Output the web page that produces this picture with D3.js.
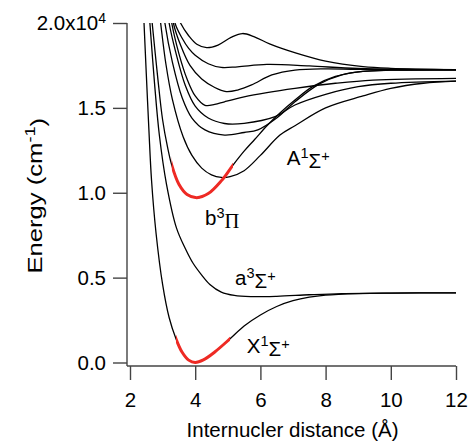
<!DOCTYPE html>
<html>
<head>
<meta charset="utf-8">
<script src="https://cdn.jsdelivr.net/npm/d3@7"></script>
<style>
  body { margin: 0; background: #fff; }
  svg { display: block; font-family: "Liberation Sans", Arial, sans-serif; }
  .curve { fill: none; stroke: #000; stroke-width: 1.3; }
  .red { fill: none; stroke: #ee2a24; stroke-width: 3; }
  .axis text { font-size: 20.5px; fill: #000; }
  .axis line { stroke: #444; stroke-width: 1.4; }
  .lbl { font-size: 20.5px; }
</style>
</head>
<body>
<div id="chart"></div>
<script>
// potential curves, [r (Å), energy (cm^-1)]
const X1Sigma = [[2.35,23500],[2.43,20000],[2.5,17000],[2.58,13700],[2.66,10750],[2.8,7600],[3.0,4600],[3.2,2650],[3.41,1400],[3.6,600],[3.8,140],[4.0,0],[4.25,150],[4.6,620],[5.07,1400],[5.5,2150],[6.0,2800],[6.5,3300],[7.0,3640],[7.5,3850],[8.0,3970],[9.0,4060],[10,4090],[12,4100]];
const a3Sigma = [[2.55,21500],[2.61,20000],[2.75,16500],[2.9,13400],[3.12,10500],[3.43,7900],[3.7,6700],[3.93,5860],[4.2,5150],[4.45,4600],[4.8,4150],[5.2,3950],[5.7,3880],[6.5,3900],[7.5,3990],[8.5,4060],[10,4090],[12,4100]];
const b3Pi = [[2.6,21500],[2.68,20000],[2.85,16800],[3.0,14300],[3.15,12700],[3.28,11630],[3.5,10500],[3.75,9900],[4.05,9710],[4.4,9950],[4.8,10700],[5.16,11630],[5.5,12450],[5.83,13150],[6.2,13950],[6.6,14700],[7.06,15460],[7.6,16250],[8.3,16850],[9.15,17150],[10,17220],[12,17240]];
const A1Sigma = [[2.85,21500],[2.94,20000],[3.1,17600],[3.3,15500],[3.63,13300],[3.9,12200],[4.2,11450],[4.5,11050],[4.8,10900],[5.07,10950],[5.5,11300],[6.0,12200],[6.6,13400],[7.06,13950],[8.0,15000],[9.15,15700],[10,16150],[11,16450],[12,16580]];
const upper6 = [[2.98,21500],[3.07,20000],[3.3,17700],[3.6,15600],[3.9,14400],[4.3,13700],[4.9,13400],[5.5,13550],[5.92,13700],[6.5,14400],[7.06,15360],[7.8,16400],[8.5,16950],[9.15,17150],[10,17220],[12,17240]];
const upper5 = [[3.1,21500],[3.2,20000],[3.4,18300],[3.7,16300],[4.0,15100],[4.4,14400],[4.9,14080],[5.5,14090],[6.45,14480],[7.06,15170],[8,15800],[9,16250],[10,16450],[12,16580]];
const upper4 = [[3.18,21500],[3.28,20000],[3.5,18200],[3.75,16700],[4.0,15700],[4.3,15150],[4.6,15200],[4.9,15360],[5.5,15650],[6.2,15900],[7.06,16150],[8.3,16450],[9.45,16640],[12,16740]];
const upper3 = [[3.23,21500],[3.33,20000],[3.55,18700],[3.84,17500],[4.2,16700],[4.6,16200],[4.95,15960],[5.3,16050],[5.73,16350],[6.35,16940],[7.06,17230],[8,17300],[9,17270],[12,17240]];
const upper2 = [[3.28,21500],[3.38,20000],[3.6,19100],[3.8,18500],[4.0,18100],[4.4,17600],[4.8,17380],[5.3,17420],[6.2,17560],[7.5,17470],[9,17320],[12,17250]];
const upper1 = [[3.45,20500],[3.55,20000],[3.8,19250],[4.05,18750],[4.35,18550],[4.7,18700],[5.1,19150],[5.45,19380],[5.8,19200],[6.3,18750],[7.1,18220],[8,17750],[9.15,17430],[10,17330],[12,17250]];

const curves = [X1Sigma, a3Sigma, b3Pi, A1Sigma, upper6, upper5, upper4, upper3, upper2, upper1];
// red parts near the minimum: [curve, rFrom, rTo]
const redParts = [[X1Sigma, 3.41, 5.07], [b3Pi, 3.28, 5.16]];

const xTicks = [2, 4, 6, 8, 10, 12];
const yTicks = [0, 5000, 10000, 15000, 20000];
const yTickLabels = ["0.0", "0.5", "1.0", "1.5", "2.0x10"];

// state labels: [main, sup, greek, sup2, r, E]
const stateLabels = [
  ["A", "1", "Σ", "+", 6.81, 11640],
  ["b", "3", "Π", "", 4.30, 8100],
  ["a", "3", "Σ", "+", 5.22, 4570],
  ["X", "1", "Σ", "+", 5.58, 560]
];

const width = 472, height = 443;
const x = d3.scaleLinear().domain([2, 12]).range([130, 456]);
const y = d3.scaleLinear().domain([0, 20000]).range([362.5, 23]);

const svg = d3.select("#chart").append("svg")
  .attr("width", width).attr("height", height);

const defs = svg.append("defs");
defs.append("clipPath").attr("id", "plot")
  .append("rect")
  .attr("x", x(2) - 20).attr("y", y(20000))
  .attr("width", x(12) - x(2) + 20).attr("height", y(0) - y(20000) + 3);
redParts.forEach((p, i) => {
  defs.append("clipPath").attr("id", "red" + i)
    .append("rect")
    .attr("x", x(p[1])).attr("y", y(20000))
    .attr("width", x(p[2]) - x(p[1])).attr("height", y(0) - y(20000) + 3);
});

const line = d3.line()
  .x(d => x(d[0]))
  .y(d => y(d[1]))
  .curve(d3.curveCatmullRom.alpha(0.5));

// axes
const axX = svg.append("g").attr("class", "axis")
  .attr("transform", `translate(0,${y(0) + 3.5})`)
  .call(d3.axisBottom(x).tickValues(xTicks).tickSize(14).tickPadding(12).tickSizeOuter(0));
axX.select(".domain").remove();
axX.append("line")
  .attr("x1", x(2) - 3).attr("x2", x(12)).attr("y1", 0).attr("y2", 0);

const axY = svg.append("g").attr("class", "axis")
  .attr("transform", `translate(${x(2) - 3},0)`)
  .call(d3.axisLeft(y).tickValues(yTicks).tickSize(14).tickPadding(7).tickSizeOuter(0)
    .tickFormat((d, i) => yTickLabels[i]));
axY.select(".domain").remove();
axY.append("line")
  .attr("x1", 0).attr("x2", 0).attr("y1", y(20000)).attr("y2", y(0) + 3.5);
// exponent on the top label
const topLabel = axY.selectAll(".tick text").filter(d => d === 20000);
topLabel.append("tspan").attr("dy", "-0.5em").style("font-size", "14px").text("4");

// curves
const g = svg.append("g").attr("clip-path", "url(#plot)");
g.selectAll("path.curve").data(curves).enter()
  .append("path").attr("class", "curve").attr("d", line);
redParts.forEach((p, i) => {
  g.append("g").attr("clip-path", `url(#red${i})`)
    .append("path").attr("class", "red").attr("d", line(p[0]));
});

// state labels
stateLabels.forEach(s => {
  const t = svg.append("text").attr("class", "lbl")
    .attr("x", x(s[4])).attr("y", y(s[5]));
  t.append("tspan").text(s[0]);
  t.append("tspan").attr("dy", "-0.45em").style("font-size", "14.5px").text(s[1]);
  t.append("tspan").attr("dy", "0.45em")
    .style("font-family", s[2] === "Π" ? "Liberation Serif, serif" : null)
    .text(s[2]);
  if (s[3]) t.append("tspan").attr("dy", "-0.45em").style("font-size", "14.5px").text(s[3]);
});

// titles
svg.append("text").attr("class", "lbl")
  .attr("x", (x(2) + x(12)) / 2 - 0.5).attr("y", 436.5)
  .attr("text-anchor", "middle")
  .text("Internucler distance (Å)");

const yt = svg.append("text").attr("class", "lbl")
  .attr("transform", `translate(42,${(y(0) + y(20000)) / 2 + 3}) rotate(-90) scale(1.25,1)`)
  .attr("text-anchor", "middle");
yt.append("tspan").text("Energy (cm");
yt.append("tspan").attr("dy", "-0.45em").style("font-size", "14.5px").text("-1");
yt.append("tspan").attr("dy", "0.45em").text(")");
</script>
</body>
</html>
